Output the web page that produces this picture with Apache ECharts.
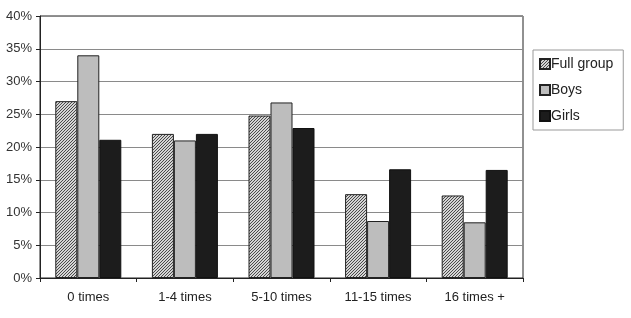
<!DOCTYPE html>
<html>
<head>
<meta charset="utf-8">
<script src="https://cdn.jsdelivr.net/npm/echarts@6/dist/echarts.min.js"></script>
<style>
  * { margin: 0; padding: 0; }
  body { background: #fff; }
</style>
</head>
<body>
<div id="main" style="width: 631px; height: 318px;"></div>
<script>
  var categories = ['0 times', '1-4 times', '5-10 times', '11-15 times', '16 times +'];
  var fullGroup = [27, 22, 24.8, 12.8, 12.6];
  var boys = [34, 21, 26.8, 8.7, 8.5];
  var girls = [21.1, 22, 22.9, 16.6, 16.5];

  // fine diagonal hatch for "Full group"
  function makeHatch() {
    var c = document.createElement('canvas');
    c.width = 3; c.height = 3;
    var ctx = c.getContext('2d');
    ctx.fillStyle = '#d4d4d4';
    ctx.fillRect(0, 0, 3, 3);
    ctx.fillStyle = '#4a4a4a';
    ctx.fillRect(2, 0, 1, 1);
    ctx.fillRect(1, 1, 1, 1);
    ctx.fillRect(0, 2, 1, 1);
    return c;
  }
  var hatch = { image: makeHatch(), repeat: 'repeat' };

  var chart = echarts.init(document.getElementById('main'));
  chart.setOption({
    animation: false,
    textStyle: { fontFamily: 'Liberation Sans, Arial, sans-serif' },
    grid: {
      left: 40, right: 108, top: 16, bottom: 40,
      show: true, borderColor: '#222', borderWidth: 1
    },
    legend: {
      orient: 'vertical',
      left: 533, top: 50,
      padding: [7, 10, 7, 6],
      itemGap: 12,
      itemWidth: 10, itemHeight: 10,
      borderColor: '#999', borderWidth: 1,
      icon: 'rect',
      textStyle: { fontSize: 14, color: '#222', padding: [0, 0, 0, -4] },
      data: ['Full group', 'Boys', 'Girls']
    },
    xAxis: {
      type: 'category',
      data: categories,
      axisLine: { lineStyle: { color: '#222' } },
      axisTick: { show: true, length: 4, interval: 0, lineStyle: { color: '#222' } },
      axisLabel: { color: '#222', fontSize: 13, margin: 13 }
    },
    yAxis: {
      type: 'value',
      min: 0, max: 40, interval: 5,
      axisLine: { show: true, lineStyle: { color: '#222' } },
      axisTick: { show: true, length: 4, lineStyle: { color: '#222' } },
      axisLabel: { color: '#333', fontSize: 13, formatter: '{value}%', margin: 8 },
      splitLine: { lineStyle: { color: '#8a8a8a' } }
    },
    series: [
      {
        name: 'Full group', type: 'bar', data: fullGroup,
        barWidth: 22, barGap: '0%',
        itemStyle: { color: hatch, borderColor: '#222', borderWidth: 1 }
      },
      {
        name: 'Boys', type: 'bar', data: boys,
        barWidth: 22,
        itemStyle: { color: '#bdbdbd', borderColor: '#222', borderWidth: 1 }
      },
      {
        name: 'Girls', type: 'bar', data: girls,
        barWidth: 22,
        itemStyle: { color: '#1c1c1c', borderColor: '#111', borderWidth: 1 }
      }
    ]
  });
</script>
</body>
</html>
